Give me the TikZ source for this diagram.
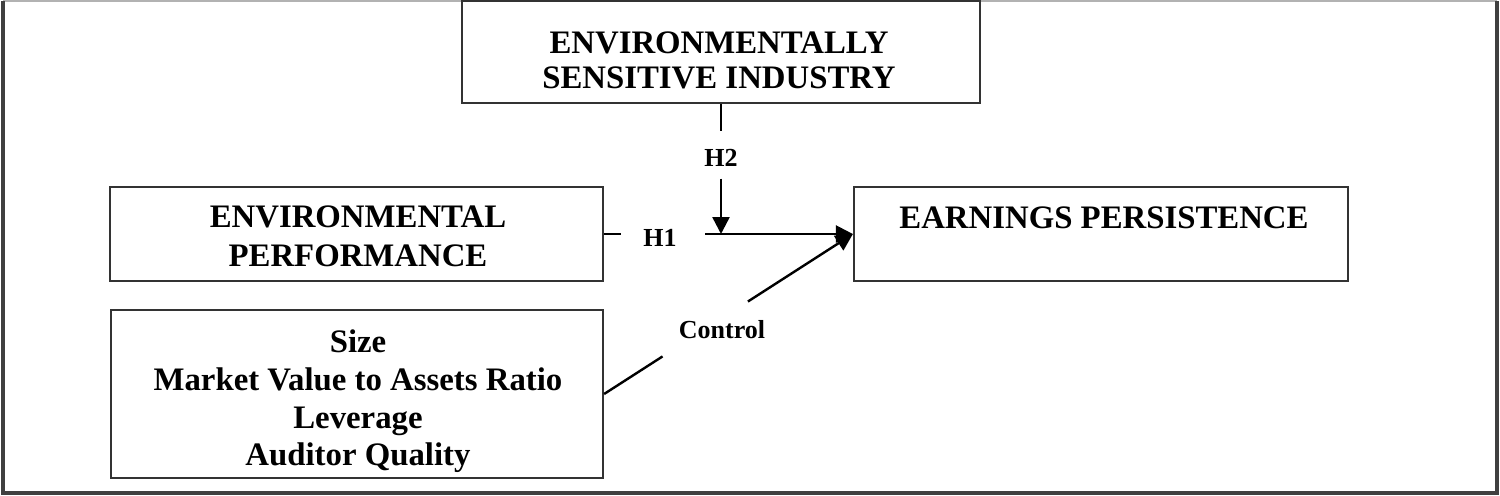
\documentclass[tikz,border=0pt]{standalone}
\usepackage{fontspec}
\setmainfont{Liberation Serif}
\usetikzlibrary{calc,arrows.meta}

\begin{document}
\begin{tikzpicture}[x=0.5pt,y=-0.5pt,
    box/.style={draw=black!80, line width=1.1pt, inner sep=0pt},
    txt/.style={font=\bfseries\fontsize{16.4}{19}\selectfont, align=center, inner sep=0pt},
    hyp/.style={font=\bfseries\fontsize{13}{15}\selectfont, inner sep=0pt},
    conn/.style={line width=1.2pt},
    arr/.style={conn, -{Triangle[length=8.5pt,width=8.5pt]}}]
    \useasboundingbox (0,0) rectangle (1500,495);

    % Frame
    \fill[white] (0,0) rectangle (1500,495);
    \draw[gray!60, line width=1pt] (3,1) -- (1497,1);
    \draw[black!75, line width=1.8pt] (3,1) -- (3,493) -- (1497,493) -- (1497,1);

    % Boxes
    \node[box, minimum width=259pt, minimum height=51pt] (esi) at (721,52) {};
    \node[txt, font=\bfseries\fontsize{16.4}{17.5}\selectfont] (esitext) at (719,60.5) {ENVIRONMENTALLY\\SENSITIVE INDUSTRY};

    \node[box, minimum width=246.5pt, minimum height=47pt] (envperf) at (356.5,234) {};
    \node[txt, font=\bfseries\fontsize{16.4}{19.5}\selectfont] (envtext) at (358,236.5) {ENVIRONMENTAL\\PERFORMANCE};

    \node[box, minimum width=247pt, minimum height=47pt] (earnpers) at (1101,234) {};
    \node[txt] (earntext) at (1104,218) {EARNINGS PERSISTENCE};

    \node[box, minimum width=246pt, minimum height=84pt] (ctrl) at (357,394) {};
    \node[txt, font=\bfseries\fontsize{16.4}{18.85}\selectfont] (ctrltext) at (358,401.5) {Size\\Market Value to Assets Ratio\\Leverage\\Auditor Quality};

    % Hypotheses
    \node[hyp] (h2) at (721,158) {H2};
    \node[hyp] (h1) at (660,238) {H1};
    \node[hyp] (ctl) at (722,330) {Control};
    \coordinate (meet) at (esi.south |- earnpers.west);

    % Links
    \draw[conn] (esi.south) -- ($(esi.south)!0.206!(meet)$);
    \draw[arr] ($(esi.south)!0.573!(meet)$) -- (meet);
    \draw[conn] (envperf.east) -- ($(envperf.east)!0.068!(earnpers.west)$);
    \draw[arr] ($(envperf.east)!0.406!(earnpers.west)$) -- (earnpers.west);
    \draw[conn] (ctrl.east) -- ($(ctrl.east)!0.235!(earnpers.west)$);
    \draw[arr] ($(ctrl.east)!0.578!(earnpers.west)$) -- (earnpers.west);
\end{tikzpicture}
\end{document}
